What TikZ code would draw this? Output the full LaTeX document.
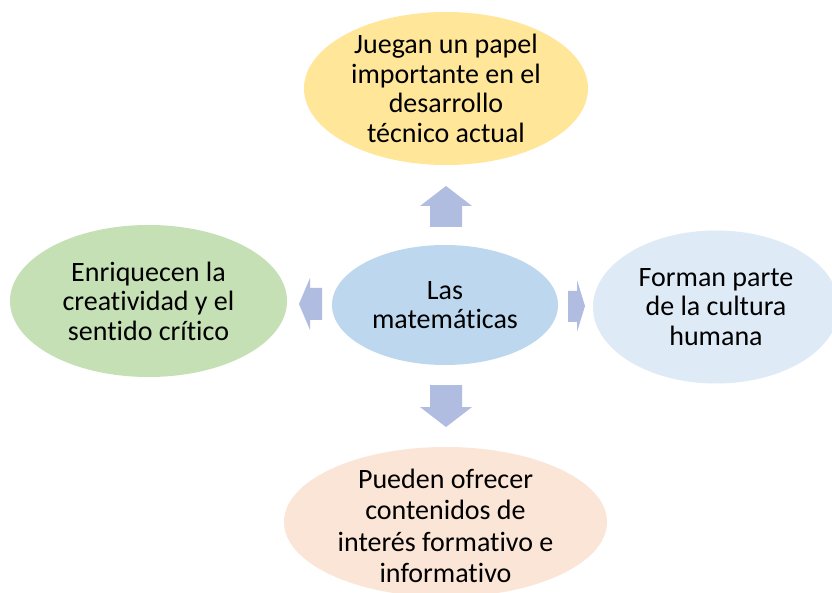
\documentclass[tikz,border=0pt]{standalone}
\usepackage{fontspec}
\setmainfont{Carlito}[Ligatures={NoCommon}]
\usetikzlibrary{shapes.geometric}
\definecolor{cyellow}{RGB}{255,230,153}
\definecolor{cgreen}{RGB}{197,224,180}
\definecolor{cblue}{RGB}{189,215,238}
\definecolor{clight}{RGB}{222,235,247}
\definecolor{cpeach}{RGB}{251,229,214}
\definecolor{carrow}{RGB}{176,189,224}
\tikzset{
  bubble/.style={ellipse, inner sep=0pt, draw=none, align=center,
    font=\fontsize{28}{29.5}\selectfont, text=black},
  blockarrow/.style={fill=carrow, draw=none}
}
\begin{document}
\begin{tikzpicture}[x=1pt,y=-1pt]
\useasboundingbox (0,0) rectangle (832,593);
\clip (0,0) rectangle (832,593);
\fill[white] (0,0) rectangle (832,593);
% ellipses
\node[bubble, fill=cyellow, minimum width=284pt, minimum height=153pt] (top) at (446,88.5)
  {Juegan un papel\\importante en el\\desarrollo\\técnico actual};
\node[bubble, fill=cgreen, minimum width=277pt, minimum height=152pt] (left) at (148.5,301)
  {Enriquecen la\\creatividad y el\\sentido crítico};
\node[bubble, fill=cblue, minimum width=226pt, minimum height=120pt] (center) at (445,305)
  {Las\\matemáticas};
\node[bubble, fill=clight, minimum width=246pt, minimum height=153pt] (right) at (716,307)
  {Forman parte\\de la cultura\\humana};
\node[bubble, fill=cpeach, minimum width=323pt, minimum height=150pt] (bottom) at (445.5,522) {};
\node[align=center, font=\fontsize{28}{31.5}\selectfont, inner sep=0pt] (bottomtext) at (445.5,526)
  {Pueden ofrecer\\contenidos de\\interés formativo e\\informativo};
% block arrows
\fill[blockarrow] (446,186) -- (472,206) -- (462,206) -- (462,227) -- (430,227) -- (430,206) -- (420,206) -- cycle;
\fill[blockarrow] (446,427) -- (472,407) -- (462,407) -- (462,385) -- (430,385) -- (430,407) -- (420,407) -- cycle;
\fill[blockarrow] (299,304) -- (310,278) -- (310,288) -- (322,288) -- (322,320) -- (310,320) -- (310,330) -- cycle;
\fill[blockarrow] (585,306) -- (577,280) -- (577,291) -- (568,291) -- (568,322) -- (577,322) -- (577,332) -- cycle;
\end{tikzpicture}
\end{document}
